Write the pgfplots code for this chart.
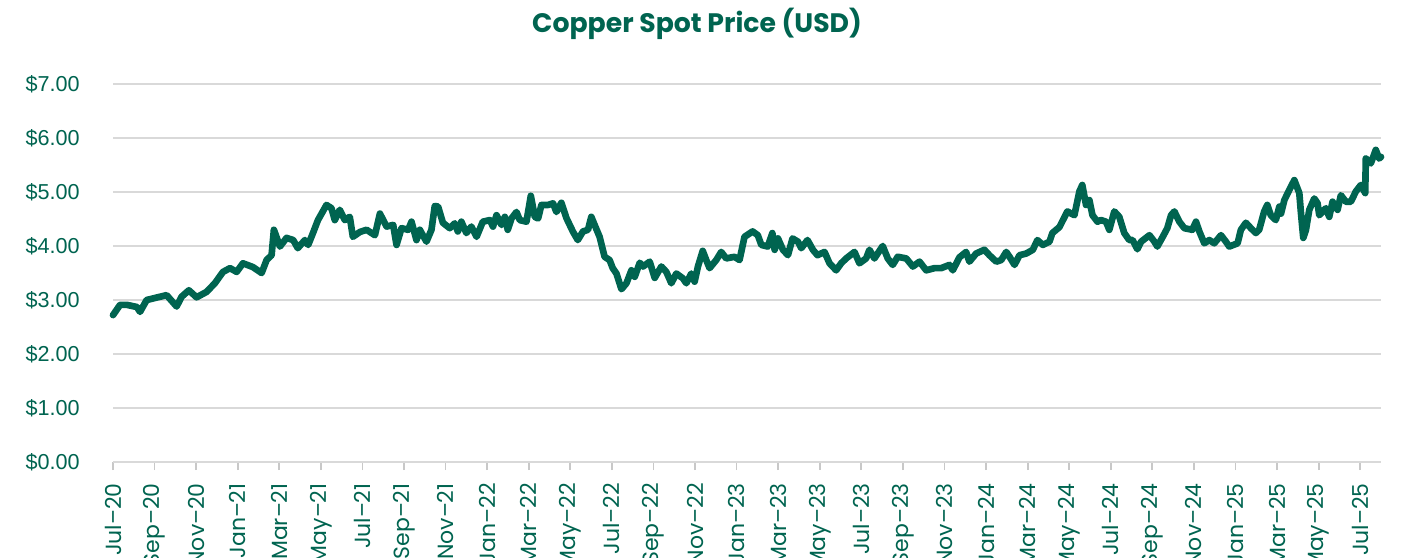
\documentclass[border=0pt]{standalone}
\usepackage{fontspec}
\setmainfont{Poppins}
\newfontfamily\arialf{Liberation Sans}
\usepackage{pgfplots}
\pgfplotsset{compat=1.18}
\definecolor{cu}{RGB}{0,100,80}
\definecolor{gridc}{RGB}{217,217,217}
\definecolor{tickc}{RGB}{200,200,200}
\begin{document}
\begin{tikzpicture}
\begin{axis}[
  at={(2.26cm,1.9cm)}, anchor=south west,
  scale only axis, width=25.36cm, height=7.56cm,
  xmin=0, xmax=61, ymin=0, ymax=7,
  clip=false,
  axis x line*=bottom, axis y line*=left,
  y axis line style={draw=none},
  x axis line style={draw=gridc, line width=1.1pt, -},
  ymajorgrids, grid style={draw=gridc, line width=1.1pt},
  ytick={0,1,2,3,4,5,6,7},
  yticklabels={\$0.00,\$1.00,\$2.00,\$3.00,\$4.00,\$5.00,\$6.00,\$7.00},
  ytick style={draw=none},
  yticklabel style={font=\arialf\fontsize{12.3}{15}\selectfont, text=cu, inner sep=0pt, anchor=east, xshift=-5mm},
  xtick={0,2,...,60},
  xticklabels={Jul–20,Sep–20,Nov–20,Jan–21,Mar–21,May–21,Jul–21,Sep–21,Nov–21,Jan–22,Mar–22,May–22,Jul–22,Sep–22,Nov–22,Jan–23,Mar–23,May–23,Jul–23,Sep–23,Nov–23,Jan–24,Mar–24,May–24,Jul–24,Sep–24,Nov–24,Jan–25,Mar–25,May–25,Jul–25},
  tick align=outside, major tick length=1.6mm,
  xtick style={draw=tickc, line width=1pt},
  xticklabel style={font=\fontsize{12.5}{15}\selectfont, text=cu, rotate=90, anchor=east, inner sep=0pt, xshift=-2.6mm},
]
\addplot[cu, line width=3.8pt, line join=round, line cap=round] table {
0.00 2.72
0.34 2.91
0.67 2.91
1.15 2.87
1.30 2.78
1.62 3.00
1.94 3.03
2.58 3.09
3.06 2.88
3.30 3.06
3.65 3.18
4.02 3.05
4.50 3.15
4.90 3.31
5.29 3.52
5.63 3.59
5.95 3.52
6.25 3.68
6.73 3.61
7.15 3.50
7.39 3.74
7.63 3.83
7.74 4.30
8.03 3.99
8.35 4.15
8.67 4.11
8.89 3.96
9.23 4.11
9.39 4.02
9.62 4.24
9.86 4.48
10.27 4.76
10.51 4.70
10.67 4.48
10.91 4.67
11.15 4.48
11.39 4.54
11.54 4.17
11.88 4.26
12.20 4.30
12.60 4.20
12.84 4.60
13.16 4.36
13.48 4.39
13.64 4.02
13.88 4.33
14.20 4.30
14.36 4.45
14.60 4.11
14.76 4.30
15.08 4.08
15.32 4.30
15.48 4.74
15.64 4.73
15.87 4.43
16.20 4.33
16.44 4.42
16.59 4.27
16.76 4.45
17.00 4.24
17.24 4.36
17.49 4.17
17.79 4.45
18.13 4.48
18.28 4.36
18.45 4.57
18.69 4.39
18.85 4.54
18.99 4.30
19.17 4.51
19.41 4.63
19.57 4.48
19.89 4.45
20.10 4.93
20.29 4.54
20.45 4.51
20.61 4.76
20.93 4.76
21.17 4.79
21.33 4.63
21.57 4.80
21.81 4.52
22.12 4.27
22.36 4.11
22.61 4.27
22.85 4.30
23.01 4.54
23.17 4.39
23.41 4.17
23.65 3.80
23.89 3.74
24.04 3.59
24.22 3.49
24.46 3.20
24.70 3.31
24.94 3.55
25.10 3.43
25.34 3.69
25.50 3.62
25.82 3.71
26.06 3.41
26.38 3.62
26.62 3.52
26.86 3.31
27.10 3.49
27.42 3.40
27.58 3.31
27.82 3.49
27.98 3.34
28.14 3.62
28.37 3.91
28.54 3.74
28.70 3.59
29.02 3.74
29.26 3.89
29.50 3.77
29.90 3.80
30.14 3.74
30.38 4.17
30.77 4.27
31.02 4.20
31.19 4.02
31.50 3.99
31.72 4.24
31.83 3.93
31.99 4.14
32.23 3.93
32.47 3.83
32.69 4.14
32.95 4.08
33.11 3.96
33.41 4.11
33.67 3.93
33.89 3.83
34.23 3.89
34.47 3.68
34.79 3.55
35.03 3.68
35.27 3.77
35.67 3.89
35.91 3.68
36.23 3.77
36.39 3.93
36.63 3.77
37.03 4.00
37.27 3.77
37.51 3.65
37.75 3.80
38.16 3.77
38.48 3.62
38.80 3.71
39.12 3.55
39.52 3.59
39.84 3.59
40.24 3.65
40.40 3.55
40.72 3.79
41.04 3.89
41.20 3.71
41.52 3.86
41.92 3.93
42.16 3.83
42.49 3.71
42.73 3.74
42.97 3.89
43.13 3.80
43.37 3.65
43.61 3.83
43.93 3.86
44.25 3.93
44.47 4.11
44.73 4.02
45.05 4.08
45.19 4.24
45.53 4.35
45.91 4.64
46.25 4.57
46.49 5.01
46.63 5.13
46.81 4.76
46.97 4.85
47.12 4.57
47.36 4.45
47.53 4.48
47.77 4.45
47.93 4.30
48.17 4.64
48.41 4.54
48.65 4.24
48.89 4.11
49.05 4.11
49.28 3.94
49.46 4.08
49.86 4.20
50.10 4.08
50.24 3.99
50.50 4.17
50.72 4.33
50.90 4.57
51.06 4.64
51.30 4.45
51.54 4.33
51.92 4.30
52.10 4.45
52.26 4.27
52.50 4.05
52.74 4.11
52.98 4.05
53.30 4.20
53.54 4.08
53.70 3.99
54.10 4.05
54.26 4.30
54.50 4.43
54.74 4.33
54.98 4.24
55.14 4.30
55.38 4.64
55.53 4.76
55.70 4.57
55.94 4.48
56.11 4.73
56.19 4.60
56.35 4.85
56.59 5.04
56.83 5.22
57.07 4.98
57.15 4.61
57.26 4.15
57.39 4.30
57.55 4.67
57.79 4.88
57.95 4.79
58.03 4.57
58.35 4.70
58.51 4.54
58.67 4.82
58.91 4.67
59.07 4.94
59.31 4.82
59.55 4.82
59.79 5.01
60.03 5.13
60.24 4.98
60.27 5.62
60.51 5.53
60.75 5.78
60.91 5.62
61.00 5.65
};
\end{axis}
\node[font=\bfseries\fontsize{15.2}{17}\selectfont, text=cu] at (13.94cm,10.66cm) {Copper Spot Price (USD)};
\pgfresetboundingbox
\path (0,0) rectangle (28.06cm,11.14cm);
\end{tikzpicture}
\end{document}
